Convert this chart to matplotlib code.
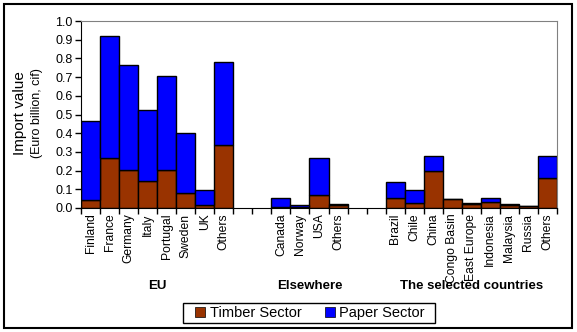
import numpy as np
import matplotlib
matplotlib.use("Agg")
import matplotlib.pyplot as plt
from matplotlib.patches import Rectangle

plt.rcParams['font.family'] = ['Liberation Sans', 'DejaVu Sans']

# categories per group
eu = ['Finland', 'France', 'Germany', 'Italy', 'Portugal', 'Sweden', 'UK', 'Others']
elsewhere = ['Canada', 'Norway', 'USA', 'Others']
selected = ['Brazil', 'Chile', 'China', 'Congo Basin', 'East Europe',
            'Indonesia', 'Malaysia', 'Russia', 'Others']
groups = ['EU', 'Elsewhere', 'The selected countries']

# import values, Euro billion
timber_eu = [0.043, 0.265, 0.205, 0.142, 0.205, 0.078, 0.014, 0.335]
paper_eu = [0.422, 0.655, 0.560, 0.382, 0.501, 0.323, 0.082, 0.446]
timber_else = [0.004, 0.004, 0.067, 0.015]
paper_else = [0.049, 0.012, 0.200, 0.007]
timber_sel = [0.053, 0.027, 0.198, 0.048, 0.023, 0.034, 0.018, 0.009, 0.160]
paper_sel = [0.086, 0.069, 0.082, 0.000, 0.005, 0.019, 0.005, 0.002, 0.120]

# build positions, leaving two empty slots between groups
pos, labels, timber, paper, centers = [], [], [], [], []
x = 0
for names, t, p in [(eu, timber_eu, paper_eu), (elsewhere, timber_else, paper_else),
                    (selected, timber_sel, paper_sel)]:
    xs = list(range(x, x + len(names)))
    pos += xs
    labels += names
    timber += t
    paper += p
    centers.append((xs[0] + xs[-1]) / 2)
    x = xs[-1] + 3
pos = np.array(pos)
timber = np.array(timber)
paper = np.array(paper)

fig = plt.figure(figsize=(5.77, 3.32), dpi=100)
ax = fig.add_axes([81/577, 1 - 208/332, 476/577, 187/332])

ax.bar(pos, timber, width=1, color='#993300', edgecolor='black', linewidth=1,
       label='Timber Sector')
ax.bar(pos, paper, width=1, bottom=timber, color='#0000FF', edgecolor='black',
       linewidth=1, label='Paper Sector')

ax.set_xlim(-0.5, pos[-1] + 0.5)
ax.set_ylim(0, 1.0)
ax.set_yticks(np.arange(0, 1.01, 0.1))
ax.set_yticklabels(['%.1f' % v for v in np.arange(0, 1.01, 0.1)], fontsize=9)
ax.set_xticks(np.arange(-0.5, pos[-1] + 1, 1))
ax.set_xticklabels([])
ax.set_xticks(pos, minor=True)
ax.set_xticklabels(labels, minor=True, rotation=90, fontsize=8.7)
ax.tick_params(axis='x', which='minor', length=0, pad=4)
ax.tick_params(axis='x', which='major', length=4, width=1)
ax.tick_params(axis='y', length=4, width=1, pad=2)

for s in ['top', 'right']:
    ax.spines[s].set_color('#808080')
for s in ['left', 'bottom']:
    ax.spines[s].set_color('black')

for c, g in zip(centers, groups):
    ax.text(c, -0.415, g, ha='center', va='center', fontsize=9.5,
            fontweight='bold')

fig.text(20/577, 1 - 113/332, 'Import value', rotation=90, ha='center',
         va='center', fontsize=11)
fig.text(37/577, 1 - 113/332, '(Euro billion, cif)', rotation=90, ha='center',
         va='center', fontsize=9)

leg = fig.legend(loc='center', bbox_to_anchor=(310/577, 1 - 313/332), ncol=2,
                 fontsize=10.5, frameon=False,
                 handlelength=0.7, handleheight=0.7, handletextpad=0.3,
                 columnspacing=1.6, borderpad=0.2)
for h in leg.legend_handles:
    h.set_linewidth(0.5)

# legend box
fig.patches.append(Rectangle((183/577, 1 - 323/332), 252/577, 20/332,
                             transform=fig.transFigure, fill=False,
                             edgecolor='black', linewidth=1))
# outer chart border
fig.patches.append(Rectangle((3.5/577, 1 - 328/332), 568.5/577, 324/332,
                             transform=fig.transFigure, fill=False,
                             edgecolor='black', linewidth=1.5))

fig.savefig('out.png', dpi=100)
